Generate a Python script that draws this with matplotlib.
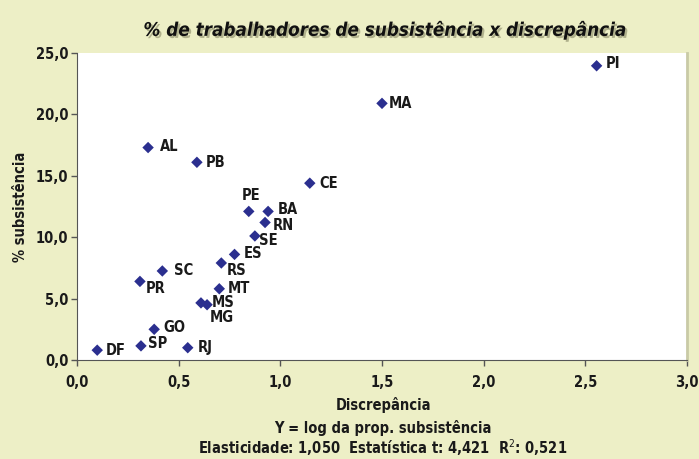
import matplotlib
matplotlib.use("Agg")
import matplotlib.pyplot as plt
import matplotlib.patheffects as pe
from matplotlib.ticker import FuncFormatter

# Estados, discrepancia (x) e % subsistencia (y)
states = ["PI", "MA", "AL", "PB", "CE", "PE", "BA", "RN", "SE", "ES",
          "RS", "SC", "PR", "MT", "MS", "MG", "GO", "SP", "DF", "RJ"]
discrepancia = [2.555, 1.50, 0.35, 0.59, 1.145, 0.845, 0.94, 0.925, 0.875, 0.775,
                0.71, 0.42, 0.31, 0.70, 0.61, 0.64, 0.38, 0.315, 0.10, 0.545]
subsistencia = [23.96, 20.9, 17.3, 16.1, 14.4, 12.1, 12.1, 11.2, 10.1, 8.6,
                7.9, 7.25, 6.4, 5.8, 4.65, 4.5, 2.5, 1.15, 0.8, 1.0]

# deslocamento dos rotulos (pixels: dx, dy para baixo, alinhamento)
label_offsets = {
    "PI": (9, -2, "left"), "MA": (7, 0, "left"), "AL": (12, -1, "left"),
    "PB": (9, 0, "left"), "CE": (10, 0, "left"), "PE": (2, -16, "center"),
    "BA": (10, -2, "left"), "RN": (8, 3, "left"), "SE": (4, 5, "left"),
    "ES": (9, -1, "left"), "RS": (5, 8, "left"), "SC": (12, 0, "left"),
    "PR": (6, 7, "left"), "MT": (8, 0, "left"), "MS": (11, 0, "left"),
    "MG": (3, 13, "left"), "GO": (9, -2, "left"), "SP": (7, -2, "left"),
    "DF": (9, 0, "left"), "RJ": (10, 0, "left"),
}

bg = "#edefc6"
fam = ["Liberation Sans Narrow", "DejaVu Sans"]
plt.rcParams["font.family"] = fam
plt.rcParams["font.stretch"] = "condensed"

fig = plt.figure(figsize=(6.99, 4.59), dpi=100, facecolor=bg)
ax = fig.add_axes([0.110, 0.2157, 0.873, 0.6688])
ax.set_facecolor("white")

ax.scatter(discrepancia, subsistencia, marker="D", s=34, color="#2b2f8f",
           edgecolors="none", zorder=3)

for name, x, y in zip(states, discrepancia, subsistencia):
    dx, dy, ha = label_offsets[name]
    ax.annotate(name, (x, y), xytext=(dx * 0.72, -dy * 0.72),
                textcoords="offset points", ha=ha, va="center",
                fontsize=10.5, fontweight="bold", color="#1a1a1a", zorder=4)

ax.set_xlim(0, 3.0)
ax.set_ylim(0, 25.0)
ax.set_xticks([0, 0.5, 1.0, 1.5, 2.0, 2.5, 3.0])
ax.set_yticks([0, 5, 10, 15, 20, 25])
comma = FuncFormatter(lambda v, p: f"{v:.1f}".replace(".", ","))
ax.xaxis.set_major_formatter(comma)
ax.yaxis.set_major_formatter(comma)
ax.tick_params(axis="both", direction="out", length=4, width=1, color="#555555",
               labelsize=10.5, labelcolor="#1a1a1a")
for lab in ax.get_xticklabels() + ax.get_yticklabels():
    lab.set_fontweight("bold")
ax.tick_params(axis="x", pad=7)
ax.tick_params(axis="y", pad=2)

ax.spines["top"].set_visible(False)
ax.spines["right"].set_color("#c9caa6")
ax.spines["right"].set_linewidth(2)
ax.spines["left"].set_color("#555555")
ax.spines["bottom"].set_color("#555555")

ax.set_ylabel("% subsistência", fontsize=10.5, fontweight="bold", color="#1a1a1a",
              labelpad=6)

fig.text(0.551, 0.935, "% de trabalhadores de subsistência x discrepância",
         ha="center", va="center", fontsize=13.5, fontweight="bold", style="italic",
         color="#111111",
         path_effects=[pe.withSimplePatchShadow(offset=(1.5, -1.5), shadow_rgbFace="#888866", alpha=0.6)])

fig.text(0.548, 0.118, "Discrepância", ha="center", va="center", fontsize=10.5,
         fontweight="bold", color="#1a1a1a")
fig.text(0.548, 0.068, "Y = log da prop. subsistência", ha="center", va="center",
         fontsize=10.5, fontweight="bold", color="#1a1a1a")
fig.text(0.548, 0.024, "Elasticidade: 1,050  Estatística t: 4,421  R$^2$: 0,521",
         ha="center", va="center", fontsize=10.5, fontweight="bold", color="#1a1a1a")

fig.savefig("out.png", dpi=100, facecolor=bg)
